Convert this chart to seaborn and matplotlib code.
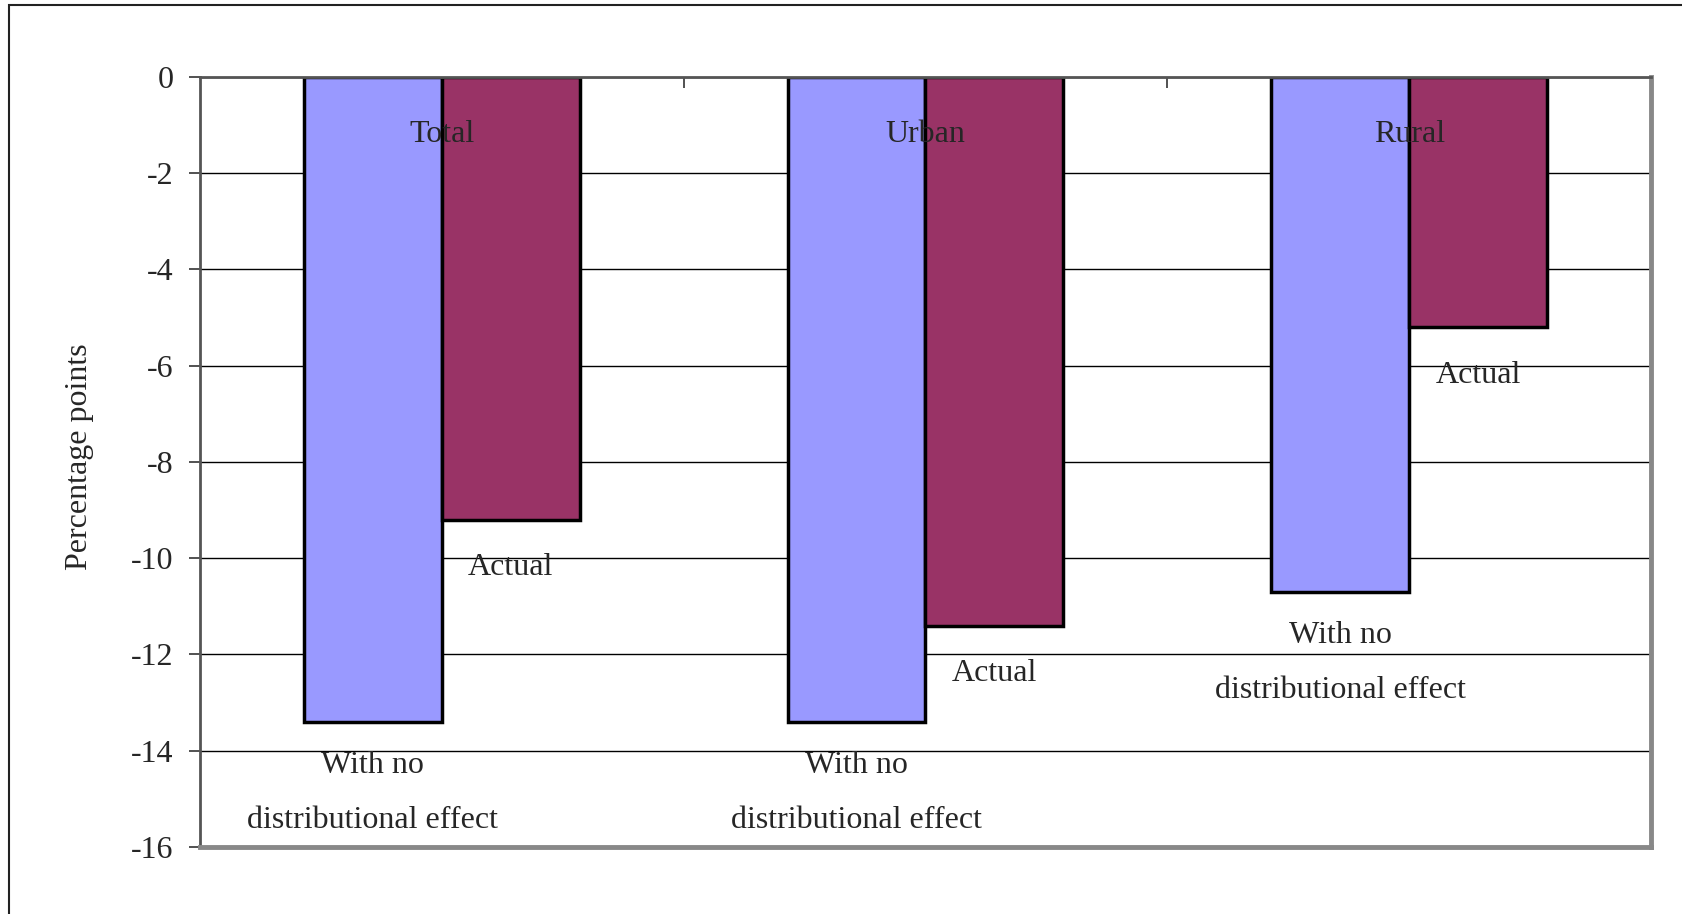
import numpy as np
import pandas as pd
import seaborn as sns
import matplotlib.pyplot as plt
from matplotlib.patches import Rectangle

# data
categories = ['Total', 'Urban', 'Rural']
series = ['With no distributional effect', 'Actual']
no_dist = [-13.4, -13.4, -10.7]
actual = [-9.2, -11.4, -5.2]
yticks = list(range(0, -17, -2))

df = pd.DataFrame({
    'region': categories * 2,
    'series': [series[0]] * 3 + [series[1]] * 3,
    'value': no_dist + actual,
})

sns.set_style('white')
plt.rcParams['font.family'] = ['Liberation Serif', 'DejaVu Serif']

fig = plt.figure(figsize=(16.83, 9.14), dpi=100)
ax = fig.add_axes([0.1188, 0.0733, 0.981 - 0.1188, 0.9158 - 0.0733])

bw = 0.57
sns.barplot(data=df, x='region', y='value', hue='series', order=categories,
            hue_order=series, palette=['#9999FF', '#993366'], width=bw,
            edgecolor='black', linewidth=2.5, saturation=1, legend=False, ax=ax)

ax.set_xlim(-0.5, 2.5)
ax.set_ylim(-16, 0)
ax.set_yticks(yticks)
ax.set_yticklabels([str(t) for t in yticks], fontsize=23)
ax.yaxis.grid(True, color='black', linewidth=1.0)
ax.set_axisbelow(True)
ax.tick_params(axis='y', direction='out', length=8, width=1.2, color='#333333', pad=11, left=True)

# category separators as ticks at the top (x axis crosses at 0)
ax.xaxis.set_ticks_position('top')
ax.set_xticks([0.5, 1.5])
ax.set_xticklabels([])
ax.tick_params(axis='x', direction='in', length=8, width=1.2, color='#333333')
ax.set_xlabel('')
ax.set_ylabel('')

for side in ['left', 'top']:
    ax.spines[side].set_color('#555555')
    ax.spines[side].set_linewidth(2)
for side in ['right', 'bottom']:
    ax.spines[side].set_color('#888888')
    ax.spines[side].set_linewidth(3.5)

off = bw / 4
for i, cat in enumerate(categories):
    ax.text(i, -1.2, cat, ha='center', va='center', fontsize=23)
    ax.text(i + off, actual[i] - 1.0, 'Actual', ha='center', va='center', fontsize=23)
    ax.text(i - off, no_dist[i] - 0.9, 'With no', ha='center', va='center', fontsize=23)
    ax.text(i - off, no_dist[i] - 2.05, 'distributional effect', ha='center', va='center', fontsize=23)

fig.text(0.0475, 0.5, 'Percentage points', rotation=90, ha='center', va='center', fontsize=23)

# outer chart frame (right and bottom edges fall outside the image)
fig.patches.append(Rectangle((0.0051, -0.05), 1.2, 0.994 + 0.05, transform=fig.transFigure,
                             fill=False, edgecolor='#222222', linewidth=1.5))

fig.savefig('out.png', dpi=100)
